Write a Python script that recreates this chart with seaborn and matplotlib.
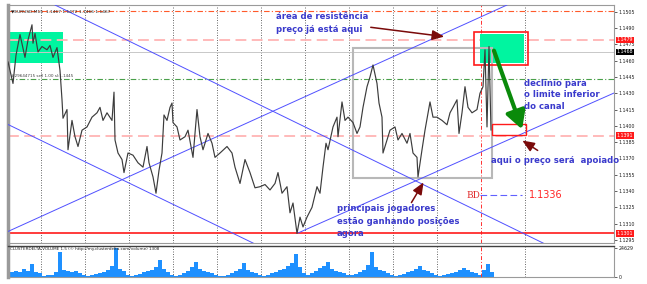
import matplotlib
matplotlib.use("Agg")
import matplotlib.pyplot as plt
import matplotlib.patches as mpatches
import seaborn as sns
import pandas as pd

sns.set_theme(style="white")
plt.rcParams['font.family'] = ['DejaVu Sans']

# ---------------- data ----------------
bar_x = [8, 10, 13, 16, 20, 25, 28, 32, 33, 35, 38, 42, 47, 50, 53, 57, 59, 60, 62, 63,
         67, 68, 72, 75, 78, 82, 87, 92, 97, 100, 103, 107, 112, 114, 115, 118, 122, 124, 128, 133,
         138, 143, 147, 149, 153, 156, 159, 162, 164, 167, 170, 172, 173, 177, 180, 185, 188, 193, 197, 200,
         203, 208, 212, 215, 220, 227, 232, 235, 240, 245, 250, 255, 260, 265, 270, 275, 278, 282, 287, 290,
         293, 297, 300, 303, 307, 312, 317, 320, 323, 326, 328, 333, 337, 338, 342, 345, 348, 353, 357, 360,
         363, 367, 370, 373, 377, 379, 382, 383, 387, 390, 395, 398, 402, 407, 410, 413, 417, 418, 422, 425,
         430, 433, 437, 442, 447, 450, 453, 457, 459, 462, 465, 468, 472, 477, 480, 483, 485, 487, 489, 491]
close = [1.1459, 1.1451, 1.1439, 1.1465, 1.1484, 1.1463, 1.1479, 1.1493, 1.1476, 1.1485, 1.1468, 1.1473, 1.1470, 1.1474, 1.1463, 1.1472, 1.1458, 1.1451, 1.1424, 1.1407,
         1.1415, 1.1378, 1.1405, 1.1390, 1.1381, 1.1396, 1.1399, 1.1408, 1.1412, 1.1417, 1.1405, 1.1412, 1.1405, 1.1431, 1.1387, 1.1375, 1.1369, 1.1357, 1.1375, 1.1373,
         1.1366, 1.1362, 1.1381, 1.1366, 1.1353, 1.1338, 1.1359, 1.1375, 1.1410, 1.1405, 1.1417, 1.1421, 1.1403, 1.1399, 1.1387, 1.1390, 1.1396, 1.1371, 1.1415, 1.1390,
         1.1378, 1.1393, 1.1384, 1.1371, 1.1375, 1.1381, 1.1375, 1.1362, 1.1347, 1.1369, 1.1357, 1.1343, 1.1344, 1.1346, 1.1341, 1.1347, 1.1357, 1.1338, 1.1344, 1.1320,
         1.1329, 1.1301, 1.1316, 1.1307, 1.1316, 1.1325, 1.1344, 1.1338, 1.1362, 1.1384, 1.1378, 1.1399, 1.1408, 1.1390, 1.1422, 1.1405, 1.1408, 1.1403, 1.1393, 1.1399,
         1.1417, 1.1436, 1.1445, 1.1456, 1.1439, 1.1421, 1.1408, 1.1375, 1.1387, 1.1396, 1.1399, 1.1387, 1.1393, 1.1384, 1.1393, 1.1375, 1.1371, 1.1353, 1.1378, 1.1396,
         1.1422, 1.1408, 1.1408, 1.1405, 1.1401, 1.1412, 1.1417, 1.1424, 1.1393, 1.1412, 1.1436, 1.1417, 1.1412, 1.1415, 1.1430, 1.1436, 1.1470, 1.1399, 1.1473, 1.1396]

vol_x = list(range(8, 493, 4))
volume_k = [2.5, 4, 5, 4.5, 7, 5, 11, 4, 3,
            1, 1.5, 2, 4, 21, 6, 5, 4.5, 5, 3.5, 1.5,
            1, 1.5, 2.5, 3, 4, 6, 9, 24, 7, 5, 2,
            1, 1.5, 2.5, 4, 5, 6, 8, 14.5, 7, 4, 2,
            1, 1.5, 3, 5, 8, 12.8, 7, 5, 4, 3, 1.5,
            1, 1.2, 2, 3.5, 5, 7, 12, 6, 4, 3.5, 1.5,
            1, 1.5, 3, 4.5, 6, 7, 9, 12, 19.5, 8, 3,
            1.5, 3, 5, 7.5, 9, 12.8, 7, 5, 4, 3, 1.5,
            1.5, 2.5, 4, 6, 10, 21, 8, 6, 5, 3, 1.5,
            1, 1.5, 2.5, 4, 5, 7, 9.4, 6, 5, 3, 1.5,
            1, 1.5, 2.5, 3.5, 4.5, 6, 7.8, 6, 4.5, 3, 1.5,
            6, 11, 4]

price_ticks = [1.1295, 1.1310, 1.1325, 1.1340, 1.1355, 1.1370, 1.1385, 1.1400,
               1.1415, 1.1430, 1.1445, 1.1460, 1.1475, 1.1490, 1.1505]
grid_x = [41, 85, 129, 173, 217, 261, 305, 349, 393, 437, 525]
now_x = 481

level_top = 1.1506       # orange dash-dot
level_res = 1.1479       # pink dashed
level_cur = 1.1468       # current price
level_sl = 1.1443        # green dash-dot
level_sup = 1.1391       # pink dashed
level_low = 1.1301       # red solid
level_bd = 1.1336

# channel lines (bar, price) endpoints
chan_up_hi = [(7, 1.13024), (507, 1.15112)]
chan_up_lo = [(298, 1.13014), (614, 1.14302)]
chan_dn_hi = [(55, 1.15112), (547, 1.12904)]
chan_dn_lo = [(7, 1.14017), (257, 1.12904)]

# ---------------- figure ----------------
W, H = 647, 284
fig = plt.figure(figsize=(W / 100, H / 100), dpi=100)
fig.patch.set_facecolor('white')
ax = fig.add_axes([8 / W, 41 / H, 606 / W, 238 / H])
axv = fig.add_axes([8 / W, 7 / H, 606 / W, 31 / H])

XL = (8, 614)
ax.set_xlim(*XL)
ax.set_ylim(1.12922, 1.15112)

# grid
for gx in grid_x:
    ax.axvline(gx, color='#555555', lw=0.6, ls=(0, (1.2, 1.8)), zorder=1)
    axv.axvline(gx, color='#555555', lw=0.6, ls=(0, (1.2, 1.8)), zorder=1)
ax.axvline(now_x, color='#ff3030', lw=0.7, ls=(0, (4, 2, 1, 2)), zorder=2)
axv.axvline(now_x, color='#ff3030', lw=0.7, ls=(0, (4, 2, 1, 2)), zorder=2)

# horizontal levels
ax.axhline(level_top, color='#ff5a2a', lw=0.8, ls=(0, (5, 2, 1, 2)), zorder=2)
ax.axhline(level_res, color='#ffb4b4', lw=1.3, ls=(0, (6, 3)), zorder=2)
ax.axhline(level_cur, color='#c8c8c8', lw=0.7, zorder=2)
ax.axhline(level_sl, color='#4aa04a', lw=0.8, ls=(0, (5, 2, 1, 2)), zorder=2)
ax.axhline(level_sup, color='#ffb4b4', lw=1.3, ls=(0, (6, 3)), zorder=2)
ax.axhline(level_low, color='#ff1a1a', lw=1.2, zorder=2)

# rectangles
ax.add_patch(mpatches.Rectangle((8, 1.14578), 55, 0.00286, facecolor='#00f5a0', edgecolor='none', zorder=1.5))
ax.add_patch(mpatches.Rectangle((480, 1.14578), 44, 0.00267, facecolor='#00f5a0', edgecolor='none', zorder=2.5))
ax.add_patch(mpatches.Rectangle((474, 1.14560), 54, 0.00304, facecolor='none', edgecolor='#ff1a1a', lw=1.2, zorder=4))
ax.add_patch(mpatches.Rectangle((353, 1.13520), 139, 0.01196, facecolor='none', edgecolor='#b8b8b8', lw=1.5, zorder=3))
ax.add_patch(mpatches.Rectangle((492, 1.13916), 34, 0.00101, facecolor='none', edgecolor='#ff1a1a', lw=1.0, zorder=4))

# channel lines
for seg in (chan_up_hi, chan_up_lo, chan_dn_hi, chan_dn_lo):
    ax.plot([seg[0][0], seg[1][0]], [seg[0][1], seg[1][1]], color='#5050ff', lw=0.7, zorder=3)

# price
df = pd.DataFrame({'bar': bar_x, 'price': close})
sns.lineplot(data=df, x='bar', y='price', ax=ax, color='#3c3c3c', lw=0.85, sort=False, zorder=5)

# BD level
ax.plot([480, 522], [level_bd, level_bd], color='#6060ff', lw=0.8, ls=(0, (6, 3)), zorder=3)
ax.text(466, level_bd, 'BD', color='#e02828', fontsize=6.5, family=['DejaVu Serif'], va='center', ha='left')
ax.text(529, level_bd, '1.1336', color='#ff2424', fontsize=7, va='center', ha='left')

# arrows
dred = '#7a0a0a'
ax.annotate('', xy=(447, 1.14818), xytext=(368, 1.14910),
            arrowprops=dict(arrowstyle='-|>,head_width=0.25,head_length=0.6', color=dred, lw=1.1), zorder=6)
ax.annotate('', xy=(520, 1.13879), xytext=(540, 1.13760),
            arrowprops=dict(arrowstyle='-|>,head_width=0.25,head_length=0.6', color=dred, lw=1.1), zorder=6)
ax.annotate('', xy=(425, 1.13502), xytext=(410, 1.13272),
            arrowprops=dict(arrowstyle='-|>,head_width=0.25,head_length=0.6', color=dred, lw=1.1), zorder=6)
ax.annotate('', xy=(523, 1.13944), xytext=(493, 1.14716),
            arrowprops=dict(arrowstyle='-|>,head_width=0.5,head_length=0.9', color='#0a8a0a', lw=3.0), zorder=7)

# annotation texts
blue = '#3a3acc'
tkw = dict(color=blue, fontsize=6.1, fontweight='bold', ha='left', va='center', zorder=8)
ax.text(276, 1.15002, 'área de resistência', **tkw)
ax.text(276, 1.14882, 'preço já está aqui', **tkw)
ax.text(524, 1.14394, 'declinio para', **tkw)
ax.text(524, 1.14284, 'o limite inferior', **tkw)
ax.text(524, 1.14174, 'do canal', **tkw)
ax.text(491, 1.13677, 'aqui o preço será  apoiado', clip_on=False, **tkw)
ax.text(337, 1.13235, 'principais jogadores', **tkw)
ax.text(337, 1.13116, 'estão ganhando posições', **tkw)
ax.text(337, 1.13005, 'agora', **tkw)

# tiny chart labels
ax.text(11, 1.1505, '\u25bcEURUSD,M15  1.1467 1.1472 1.1466 1.1467', fontsize=3.2, color='#202020', va='center')
ax.text(11, 1.14455, '#29644715 sell 1.00 sl:1.1445', fontsize=3.0, color='#404040', va='center')

# right price axis
ax.yaxis.tick_right()
ax.set_yticks(price_ticks)
ax.set_yticklabels([f'{t:.4f}' for t in price_ticks], fontsize=3.4, color='#202020')
ax.tick_params(axis='y', length=2, width=0.5, pad=1.5, colors='#202020')
ax.set_xticks([])
ax.set_xlabel('')
ax.set_ylabel('')
for lvl, fc in ((level_res, '#ff1a1a'), (level_cur, '#000000'), (level_sup, '#ff1a1a'), (level_low, '#ff1a1a')):
    ax.text(1.004, lvl, f'{lvl:.4f}', transform=ax.get_yaxis_transform(), fontsize=3.4, color='white',
            va='center', ha='left', bbox=dict(boxstyle='square,pad=0.15', facecolor=fc, edgecolor='none'), zorder=9)

for s in ax.spines.values():
    s.set_color('#9a9a9a')
    s.set_linewidth(0.8)
ax.spines['left'].set_linewidth(2.5)

# volume panel
vdf = pd.DataFrame({'x': vol_x, 'v': [v * 1000 for v in volume_k]})
sns.barplot(data=vdf, x='x', y='v', native_scale=True, color='#1e90ff', width=0.95,
            linewidth=0, errorbar=None, saturation=1, ax=axv)
axv.set_xlim(*XL)
axv.set_ylim(0, 26000)
axv.yaxis.tick_right()
axv.set_yticks([0, 24629])
axv.set_yticklabels(['0', '24629'], fontsize=3.4, color='#202020')
axv.tick_params(axis='y', length=2, width=0.5, pad=1.5)
axv.set_xticks([])
axv.set_xlabel('')
axv.set_ylabel('')
axv.text(10, 23500, 'CLUSTERDELTA VOLUME 1.5 (\u00a9 http://my.clusterdelta.com/volume) 1308',
         fontsize=3.0, color='#202020', va='center')
for s in axv.spines.values():
    s.set_color('#9a9a9a')
    s.set_linewidth(0.8)
axv.spines['top'].set_color('#404040')
axv.spines['top'].set_linewidth(1.0)
axv.spines['left'].set_linewidth(2.5)

fig.savefig('out.png', dpi=100, facecolor='white')
